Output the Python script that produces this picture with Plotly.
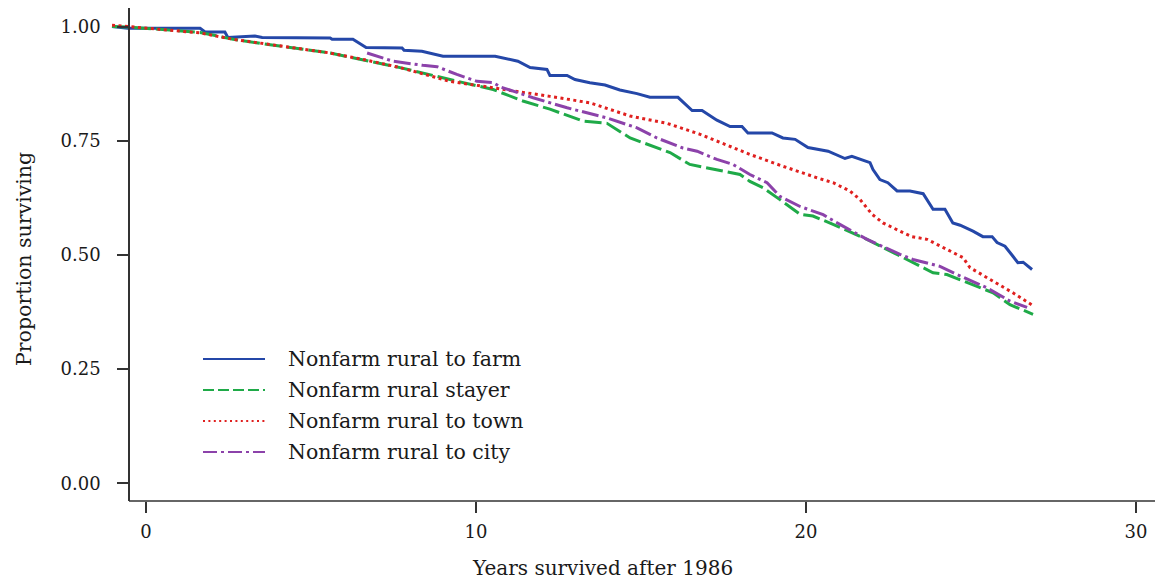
import plotly.graph_objects as go

# ---------------- data ----------------
farm_x = [-1.03, -0.55, 1.64, 1.79, 2.39, 2.48, 3.30, 3.52, 5.58, 5.64, 6.27, 6.67, 7.76, 7.82,
          8.36, 9.00, 10.58, 11.27, 11.64, 12.15, 12.24, 12.76, 13.00, 13.45, 13.91, 14.36, 14.88,
          15.27, 16.12, 16.55, 16.85, 17.30, 17.70, 18.06, 18.24, 18.97, 19.30, 19.67, 20.06,
          20.67, 21.18, 21.39, 21.94, 22.03, 22.24, 22.48, 22.76, 23.15, 23.55, 23.85, 24.21,
          24.45, 24.67, 25.06, 25.36, 25.64, 25.79, 26.03, 26.27, 26.42, 26.58, 26.85]
farm_y = [1.000, 0.996, 0.996, 0.988, 0.988, 0.976, 0.979, 0.976, 0.975, 0.972, 0.972, 0.954,
          0.953, 0.948, 0.946, 0.935, 0.935, 0.924, 0.910, 0.906, 0.893, 0.893, 0.884, 0.877,
          0.872, 0.861, 0.853, 0.845, 0.845, 0.816, 0.816, 0.795, 0.781, 0.781, 0.767, 0.767,
          0.756, 0.753, 0.735, 0.727, 0.711, 0.716, 0.702, 0.687, 0.665, 0.658, 0.640, 0.640,
          0.634, 0.600, 0.600, 0.570, 0.565, 0.552, 0.540, 0.540, 0.527, 0.519, 0.497, 0.483,
          0.484, 0.468]

stayer_x = [-1.03, -0.55, 1.64, 2.64, 3.76, 5.58, 6.70, 7.70, 9.21, 10.52, 11.42, 12.24, 13.24,
            13.97, 14.67, 15.88, 16.48, 17.30, 18.00, 18.30, 18.70, 19.21, 19.82, 20.21, 20.82,
            21.85, 22.85, 23.24, 23.85, 24.27, 24.67, 25.67, 26.18, 26.88]
stayer_y = [1.000, 0.999, 0.987, 0.972, 0.960, 0.942, 0.925, 0.910, 0.884, 0.862, 0.837, 0.819,
            0.793, 0.788, 0.756, 0.724, 0.698, 0.687, 0.676, 0.661, 0.647, 0.621, 0.589, 0.585,
            0.567, 0.534, 0.497, 0.483, 0.461, 0.457, 0.446, 0.417, 0.391, 0.370]

town_x = [-1.03, -0.55, 0.42, 1.64, 2.64, 3.76, 5.58, 6.70, 7.70, 9.21, 10.73, 12.24, 13.45,
          14.67, 15.79, 16.79, 18.30, 19.30, 20.33, 20.82, 21.33, 21.64, 22.00, 22.33, 22.85,
          23.21, 23.67, 24.27, 24.58, 24.76, 24.97, 25.58, 26.27, 26.88]
town_y = [1.003, 1.000, 0.995, 0.986, 0.972, 0.961, 0.942, 0.926, 0.910, 0.880, 0.864, 0.847,
          0.833, 0.804, 0.788, 0.764, 0.720, 0.694, 0.669, 0.658, 0.640, 0.621, 0.589, 0.570,
          0.552, 0.540, 0.534, 0.512, 0.499, 0.494, 0.472, 0.446, 0.417, 0.389]

city_x = [6.70, 7.48, 8.39, 8.82, 9.42, 10.03, 10.52, 10.73, 11.73, 12.76, 13.97, 14.88, 15.48,
          16.27, 16.70, 17.30, 17.79, 18.30, 18.82, 19.21, 19.82, 20.52, 21.12, 21.85, 22.85,
          23.24, 24.06, 24.58, 25.48, 26.18, 26.70]
city_y = [0.942, 0.924, 0.915, 0.912, 0.895, 0.880, 0.877, 0.868, 0.844, 0.822, 0.800, 0.778,
          0.756, 0.734, 0.727, 0.709, 0.698, 0.676, 0.658, 0.628, 0.606, 0.588, 0.563, 0.534,
          0.501, 0.490, 0.475, 0.457, 0.428, 0.399, 0.385]

series_names = ["Nonfarm rural to farm", "Nonfarm rural stayer",
                "Nonfarm rural to town", "Nonfarm rural to city"]
x_ticks = [0, 10, 20, 30]
y_ticks = [0.00, 0.25, 0.50, 0.75, 1.00]
x_title = "Years survived after 1986"
y_title = "Proportion surviving"

# ---------------- styles ----------------
colors = ["#2447A8", "#1FAA48", "#E0201F", "#8C42AA"]
dashes = ["solid", "17px,5px", "3px,3.5px", "17px,4px,3px,4px"]
legend_dashes = ["solid", "11px,4px", "2px,3.4px", "14px,4px,3px,4px"]
widths = [3.0, 3.0, 3.0, 3.0]
FONT = "DejaVu Serif"
AXC = "#333333"
TXT = "#1a1a1a"

fig = go.Figure()
data = [(farm_x, farm_y), (stayer_x, stayer_y), (town_x, town_y), (city_x, city_y)]
for (xs, ys), name, c, d, w in zip(data, series_names, colors, dashes, widths):
    fig.add_trace(go.Scatter(x=xs, y=ys, mode="lines", name=name, showlegend=False,
                             line=dict(color=c, width=w, dash=d)))

# plot area in pixels: x 111..1156, y 8..501
L, R, T, B = 111, 1156, 8, 501
W, H = R - L, B - T
xr = [(L - 146) / 33.0, (R - 146) / 33.0]
yr = [(483.3 - B) / 456.8, (483.3 - T) / 456.8]

fig.update_layout(
    width=1160, height=587,
    margin=dict(l=L, r=1160 - R, t=T, b=587 - B),
    paper_bgcolor="white", plot_bgcolor="white",
    font=dict(family=FONT, size=20, color=TXT),
    xaxis=dict(range=xr, tickvals=x_ticks, ticks="outside", ticklen=11, tickwidth=1.5,
               tickcolor=AXC, showline=False, showgrid=False, zeroline=False,
               ticklabelstandoff=3,
               tickfont=dict(family=FONT, size=18, color=TXT)),
    yaxis=dict(range=yr, tickvals=y_ticks, tickformat=".2f", ticks="outside", ticklen=11,
               tickwidth=1.5, tickcolor=AXC, showline=True, linecolor=AXC, linewidth=1.5,
               anchor="free", position=(129 - L) / W, showgrid=False, zeroline=False,
               ticklabelstandoff=13,
               tickfont=dict(family=FONT, size=18, color=TXT)),
)

# x axis line starting at the y axis
fig.add_shape(type="line", xref="x", yref="paper", x0=(129 - 146) / 33.0, x1=(1155 - 146) / 33.0,
              y0=0, y1=0, line=dict(color=AXC, width=1.5))

# axis titles
fig.add_annotation(text=x_title, xref="paper", yref="paper", x=(602 - L) / W, y=(B - 568) / H,
                   xanchor="center", yanchor="middle", showarrow=False,
                   font=dict(family=FONT, size=20, color=TXT))
fig.add_annotation(text=y_title, xref="paper", yref="paper", x=(24 - L) / W, y=(B - 259) / H,
                   xanchor="center", yanchor="middle", showarrow=False, textangle=-90,
                   font=dict(family=FONT, size=20.5, color=TXT))

# legend drawn inside the plot
row_px = [359, 390, 421, 452]
for name, c, d, py in zip(series_names, colors, legend_dashes, row_px):
    yp = (B - py) / H
    fig.add_shape(type="line", xref="paper", yref="paper", x0=(203 - L) / W, x1=(265 - L) / W,
                  y0=yp, y1=yp, line=dict(color=c, width=2.2, dash=d))
    fig.add_annotation(text=name, xref="paper", yref="paper", x=(286 - L) / W, y=yp,
                       xanchor="left", yanchor="middle", showarrow=False,
                       font=dict(family=FONT, size=20.5, color=TXT))

fig.write_html("out.html")
